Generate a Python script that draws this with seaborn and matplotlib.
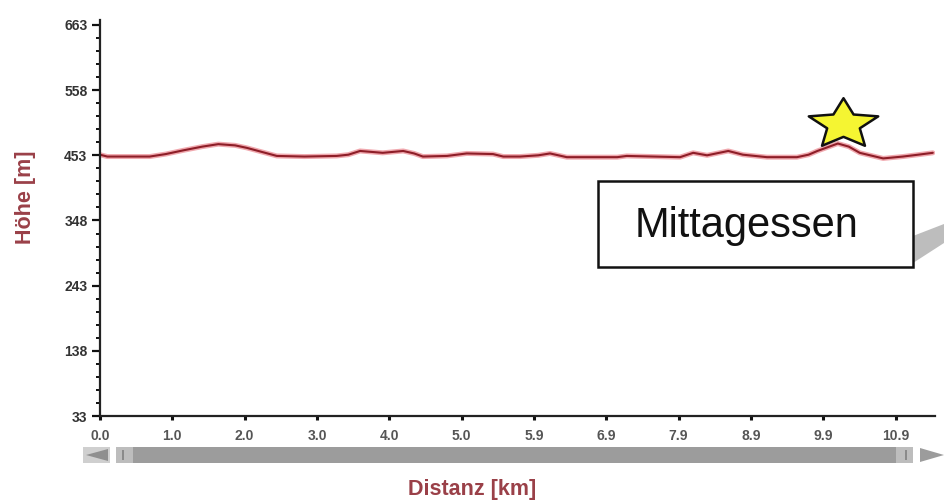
import matplotlib
matplotlib.use("Agg")
import matplotlib.pyplot as plt
import matplotlib.patches as mpatches
from matplotlib.path import Path
import numpy as np
import pandas as pd
import seaborn as sns

# ---- data ----
dist_km = [0.0, 0.1, 0.3, 0.68, 0.9, 1.14, 1.4, 1.62, 1.85, 2.01, 2.23, 2.42, 2.8, 3.24,
           3.4, 3.56, 3.87, 4.15, 4.3, 4.42, 4.75, 5.02, 5.38, 5.52, 5.75, 6.0, 6.16,
           6.39, 7.08, 7.21, 7.94, 8.12, 8.31, 8.60, 8.80, 9.13, 9.54, 9.70, 9.82,
           10.10, 10.25, 10.40, 10.72, 10.99, 11.20, 11.40]
elev_m = [454, 451, 451, 451, 455, 461, 467, 471, 469, 465, 458, 452, 451, 452,
          454, 460, 457, 460, 456, 451, 452, 456, 455, 451, 451, 453, 456,
          450, 450, 452, 450, 457, 453, 460, 454, 450, 450, 454, 460,
          472, 467, 457, 448, 451, 454, 457]
x_tick_pos = [0.0, 0.99, 1.98, 2.97, 3.96, 4.95, 5.94, 6.93, 7.92, 8.91, 9.90, 10.89]
x_tick_labels = ["0.0", "1.0", "2.0", "3.0", "4.0", "5.0", "5.9", "6.9", "7.9", "8.9", "9.9", "10.9"]
y_ticks = [33, 138, 243, 348, 453, 558, 663]
star_point = (10.17, 503)
label_text = "Mittagessen"

df = pd.DataFrame({"Distanz": dist_km, "Hoehe": elev_m})

sns.set_style("ticks")
plt.rcParams['font.family'] = ['Liberation Sans', 'DejaVu Sans']

W, H = 944, 503
fig = plt.figure(figsize=(W / 100, H / 100), dpi=100)
ax = fig.add_axes([100 / W, 1 - 416 / H, 835 / W, 396 / H])

# halo + core line
sns.lineplot(data=df, x="Distanz", y="Hoehe", ax=ax, color="#EC8C94", linewidth=3.6,
             alpha=0.75, solid_joinstyle="round", solid_capstyle="round")
sns.lineplot(data=df, x="Distanz", y="Hoehe", ax=ax, color="#8E1E28", linewidth=1.5,
             solid_joinstyle="round", solid_capstyle="round")

ax.set_xlim(0, 11.43)
ax.set_ylim(33, 671)

for s in ["top", "right"]:
    ax.spines[s].set_visible(False)
for s in ["left", "bottom"]:
    ax.spines[s].set_color("#222222")
    ax.spines[s].set_linewidth(1.6)

ax.set_yticks(y_ticks)
ax.set_yticklabels([str(v) for v in y_ticks])
ax.set_yticks([v for i in range(len(y_ticks) - 1) for v in np.linspace(y_ticks[i], y_ticks[i + 1], 6)[1:-1]], minor=True)
ax.set_xticks(x_tick_pos)
ax.set_xticklabels(x_tick_labels)

ax.tick_params(axis="y", which="major", direction="out", length=6, width=1.6, color="#111",
               labelsize=10, labelcolor="#333333", pad=3)
ax.tick_params(axis="y", which="minor", direction="out", length=3, width=1.4, color="#111")
ax.tick_params(axis="x", which="major", direction="out", length=3, width=2.2, color="#111",
               labelsize=10, labelcolor="#555555", pad=6)
for lab in ax.get_xticklabels() + ax.get_yticklabels():
    lab.set_fontweight("bold")

ax.set_xlabel("")
ax.set_ylabel("")

lab_color = "#9A4048"
fig.text(25 / W, 1 - 197 / H, "Höhe [m]", rotation=90, ha="center", va="center",
         fontsize=15.5, fontweight="bold", color=lab_color)
fig.text(472 / W, 1 - 489 / H, "Distanz [km]", ha="center", va="center",
         fontsize=15.5, fontweight="bold", color=lab_color)

# star marker (flattened)
ang = np.linspace(np.pi / 2, np.pi / 2 + 2 * np.pi, 11)
rad = np.array([1.0 if i % 2 == 0 else 0.47 for i in range(11)])
verts = np.column_stack([rad * np.cos(ang), rad * np.sin(ang) * 0.72])
star = Path(verts, closed=True)
ax.plot([star_point[0]], [star_point[1]], marker=star, markersize=50,
        markerfacecolor="#F5F532", markeredgecolor="#111111", markeredgewidth=1.8,
        linestyle="none", clip_on=False)

def px(x, y):
    return (x / W, 1 - y / H)

# callout shadow
shadow = mpatches.Polygon([px(913, 236), px(944, 224), px(944, 243), px(913, 263)],
                          closed=True, transform=fig.transFigure, facecolor="#BDBDBD",
                          edgecolor="none")
fig.add_artist(shadow)
box = mpatches.Rectangle(px(598, 267), 315 / W, 86 / H, transform=fig.transFigure,
                         facecolor="white", edgecolor="#111111", linewidth=1.8)
fig.add_artist(box)
fig.text(747 / W, 1 - 226 / H, label_text, ha="center", va="center", fontsize=30,
         color="#111111")

# scrollbar under the axis
bar_y, bar_h = 447, 16
parts = [
    (83, 110, "#CFCFCF"),
    (116, 133, "#BDBDBD"),
    (133, 896, "#9C9C9C"),
    (896, 913, "#BDBDBD"),
]
for x0, x1, c in parts:
    fig.add_artist(mpatches.Rectangle(px(x0, bar_y + bar_h), (x1 - x0) / W, bar_h / H,
                                      transform=fig.transFigure, facecolor=c, edgecolor="none"))
for xl in (122, 905):
    fig.add_artist(mpatches.Rectangle(px(xl, bar_y + bar_h - 3), 2 / W, (bar_h - 6) / H,
                                      transform=fig.transFigure, facecolor="#8A8A8A", edgecolor="none"))
fig.add_artist(mpatches.Polygon([px(86, 455), px(108, 449), px(108, 461)], closed=True,
                                transform=fig.transFigure, facecolor="#8F8F8F", edgecolor="none"))
fig.add_artist(mpatches.Polygon([px(920, 448), px(944, 455), px(920, 462)], closed=True,
                                transform=fig.transFigure, facecolor="#9C9C9C", edgecolor="none"))

fig.savefig("out.png", dpi=100, facecolor="white")
